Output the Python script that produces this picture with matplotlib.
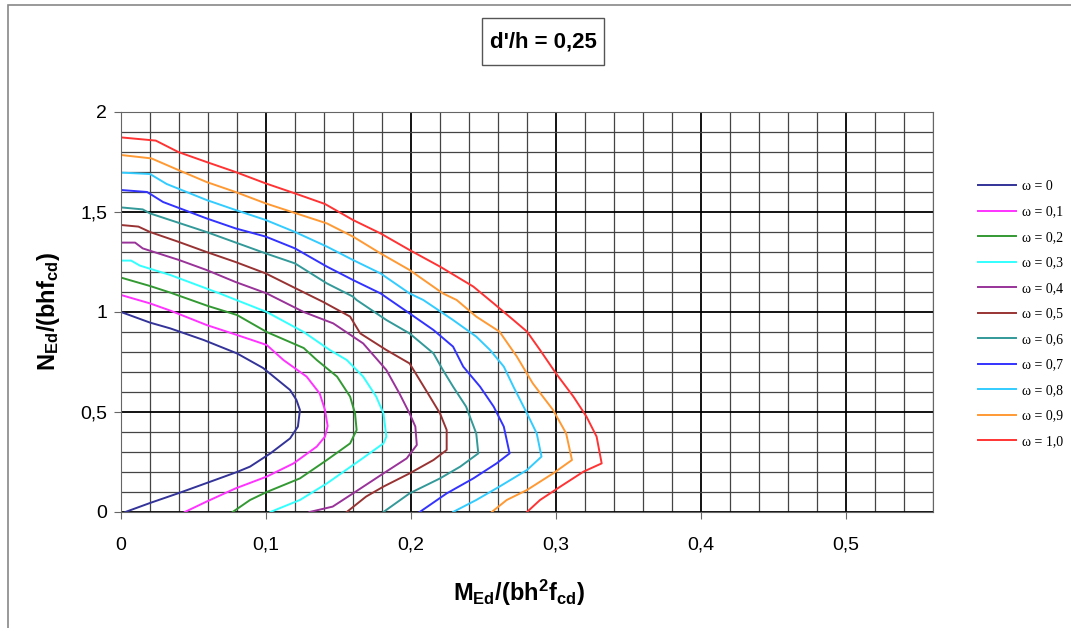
import numpy as np
import matplotlib.pyplot as plt
from matplotlib.ticker import MultipleLocator, FixedLocator, FixedFormatter
from matplotlib.patches import Rectangle

plt.rcParams['font.family'] = ['Liberation Sans', 'DejaVu Sans']
plt.rcParams['mathtext.fontset'] = 'custom'
plt.rcParams['mathtext.rm'] = 'Liberation Sans:bold'
plt.rcParams['mathtext.it'] = 'Liberation Sans:bold'
plt.rcParams['mathtext.bf'] = 'Liberation Sans:bold'

# interaction curves, M_Ed/(bh^2 fcd) vs N_Ed/(bh fcd)
m_w0 = [0, 0.02, 0.034, 0.057, 0.08, 0.098, 0.1166, 0.121, 0.1234, 0.122, 0.1166, 0.103, 0.089, 0.08, 0.061, 0.04, 0.02, 0.003]
n_w0 = [1.0, 0.947, 0.918, 0.86, 0.793, 0.72, 0.61, 0.56, 0.51, 0.427, 0.368, 0.293, 0.227, 0.2, 0.15, 0.095, 0.045, 0.0]

m_w1 = [0, 0.02, 0.034, 0.059, 0.08, 0.1005, 0.112, 0.128, 0.137, 0.1407, 0.1425, 0.1407, 0.135, 0.119, 0.1005, 0.079, 0.059, 0.044]
n_w1 = [1.085, 1.043, 1.007, 0.935, 0.885, 0.835, 0.76, 0.677, 0.593, 0.51, 0.43, 0.377, 0.327, 0.243, 0.177, 0.118, 0.052, 0.0]

m_w2 = [0, 0.02, 0.034, 0.06, 0.08, 0.1005, 0.126, 0.135, 0.149, 0.158, 0.1614, 0.1625, 0.158, 0.142, 0.1234, 0.1005, 0.089, 0.077]
n_w2 = [1.172, 1.13, 1.097, 1.03, 0.985, 0.90, 0.82, 0.76, 0.677, 0.577, 0.493, 0.41, 0.343, 0.26, 0.168, 0.10, 0.06, 0.0]

m_w3 = [0, 0.007, 0.013, 0.034, 0.068, 0.1005, 0.126, 0.144, 0.1557, 0.167, 0.176, 0.181, 0.183, 0.181, 0.165, 0.142, 0.1234, 0.103]
n_w3 = [1.257, 1.257, 1.232, 1.185, 1.093, 1.0, 0.90, 0.81, 0.76, 0.677, 0.577, 0.493, 0.377, 0.343, 0.26, 0.143, 0.06, 0.0]

m_w4 = [0, 0.0097, 0.015, 0.04, 0.059, 0.079, 0.1005, 0.126, 0.1464, 0.167, 0.183, 0.192, 0.199, 0.203, 0.204, 0.197, 0.181, 0.16, 0.146, 0.130]
n_w4 = [1.347, 1.347, 1.318, 1.26, 1.21, 1.15, 1.093, 1.0, 0.943, 0.843, 0.71, 0.593, 0.493, 0.427, 0.335, 0.268, 0.193, 0.093, 0.027, 0.0]

m_w5 = [0, 0.012, 0.02, 0.04, 0.059, 0.079, 0.0998, 0.12, 0.1395, 0.158, 0.165, 0.183, 0.199, 0.206, 0.213, 0.22, 0.2246, 0.2246, 0.2155, 0.199, 0.181, 0.169, 0.1557]
n_w5 = [1.435, 1.427, 1.40, 1.35, 1.30, 1.25, 1.193, 1.12, 1.05, 0.977, 0.893, 0.81, 0.743, 0.66, 0.577, 0.493, 0.41, 0.31, 0.26, 0.193, 0.127, 0.077, 0.0]

m_w6 = [0, 0.015, 0.02, 0.059, 0.0998, 0.12, 0.142, 0.16, 0.1625, 0.183, 0.199, 0.2155, 0.222, 0.229, 0.238, 0.245, 0.2464, 0.234, 0.22, 0.199, 0.181]
n_w6 = [1.523, 1.513, 1.493, 1.40, 1.293, 1.243, 1.143, 1.077, 1.06, 0.96, 0.893, 0.793, 0.71, 0.627, 0.527, 0.393, 0.293, 0.227, 0.168, 0.093, 0.0]

m_w7 = [0, 0.018, 0.029, 0.059, 0.079, 0.0998, 0.12, 0.142, 0.16, 0.179, 0.199, 0.2155, 0.229, 0.236, 0.2476, 0.257, 0.264, 0.268, 0.259, 0.243, 0.2246, 0.206]
n_w7 = [1.61, 1.60, 1.55, 1.468, 1.418, 1.377, 1.318, 1.227, 1.16, 1.093, 0.993, 0.91, 0.827, 0.727, 0.627, 0.527, 0.427, 0.293, 0.243, 0.168, 0.093, 0.0]

m_w8 = [0, 0.02, 0.0315, 0.059, 0.079, 0.0998, 0.12, 0.142, 0.16, 0.179, 0.199, 0.2085, 0.229, 0.245, 0.2545, 0.264, 0.2706, 0.28, 0.2867, 0.29, 0.28, 0.261, 0.245, 0.229]
n_w8 = [1.697, 1.69, 1.64, 1.56, 1.51, 1.46, 1.40, 1.327, 1.26, 1.193, 1.093, 1.06, 0.96, 0.877, 0.81, 0.727, 0.627, 0.493, 0.393, 0.277, 0.21, 0.127, 0.06, 0.0]

m_w9 = [0, 0.021, 0.0395, 0.059, 0.079, 0.0998, 0.12, 0.142, 0.16, 0.179, 0.199, 0.222, 0.2315, 0.245, 0.261, 0.273, 0.284, 0.298, 0.307, 0.311, 0.298, 0.28, 0.266, 0.2557]
n_w9 = [1.785, 1.768, 1.71, 1.65, 1.60, 1.543, 1.495, 1.443, 1.377, 1.293, 1.21, 1.093, 1.06, 0.977, 0.902, 0.777, 0.643, 0.51, 0.393, 0.26, 0.193, 0.11, 0.06, 0.0]

m_w10 = [0, 0.024, 0.0395, 0.059, 0.079, 0.0998, 0.12, 0.1407, 0.16, 0.179, 0.199, 0.22, 0.243, 0.257, 0.2706, 0.28, 0.289, 0.30, 0.312, 0.321, 0.328, 0.3315, 0.319, 0.303, 0.289, 0.28]
n_w10 = [1.873, 1.857, 1.80, 1.75, 1.70, 1.643, 1.593, 1.54, 1.46, 1.393, 1.31, 1.227, 1.127, 1.043, 0.96, 0.902, 0.81, 0.693, 0.577, 0.477, 0.377, 0.243, 0.202, 0.127, 0.06, 0.0]

labels = ['ω = 0', 'ω = 0,1', 'ω = 0,2', 'ω = 0,3', 'ω = 0,4', 'ω = 0,5',
          'ω = 0,6', 'ω = 0,7', 'ω = 0,8', 'ω = 0,9', 'ω = 1,0']
colors = ['#333399', '#ff33ff', '#339933', '#33ffff', '#993399', '#993333',
          '#339999', '#3333ff', '#33ccff', '#ff9933', '#ff3333']

xticks = [0, 0.1, 0.2, 0.3, 0.4, 0.5]
xticklabels = ['0', '0,1', '0,2', '0,3', '0,4', '0,5']
yticks = [0, 0.5, 1, 1.5, 2]
yticklabels = ['0', '0,5', '1', '1,5', '2']

curves = [(m_w0, n_w0), (m_w1, n_w1), (m_w2, n_w2), (m_w3, n_w3), (m_w4, n_w4), (m_w5, n_w5),
          (m_w6, n_w6), (m_w7, n_w7), (m_w8, n_w8), (m_w9, n_w9), (m_w10, n_w10)]

fig = plt.figure(figsize=(10.71, 6.28), dpi=100)
ax = fig.add_axes([121 / 1071, 1 - 512 / 628, 812 / 1071, 400 / 628])

for (m, n), c, lab in zip(curves, colors, labels):
    ax.plot(m, n, color=c, lw=1.4, label=lab)

ax.set_xlim(0, 0.56)
ax.set_ylim(0, 2)
ax.xaxis.set_major_locator(FixedLocator(xticks))
ax.xaxis.set_major_formatter(FixedFormatter(xticklabels))
ax.yaxis.set_major_locator(FixedLocator(yticks))
ax.yaxis.set_major_formatter(FixedFormatter(yticklabels))
ax.xaxis.set_minor_locator(MultipleLocator(0.02))
ax.yaxis.set_minor_locator(MultipleLocator(0.1))
ax.set_axisbelow(True)
ax.grid(which='minor', color='#444444', lw=0.9)
ax.grid(which='major', color='black', lw=1.3)
ax.tick_params(which='major', length=5, color='#666666', labelsize=14, pad=5)
ax.tick_params(axis='x', which='major', pad=13)
ax.tick_params(which='minor', length=0)
for s in ax.spines.values():
    s.set_color('#666666')

ax.set_xlabel('M$_{Ed}$/(bh$^2$f$_{cd}$)', fontsize=17, fontweight='bold')
ax.set_ylabel('N$_{Ed}$/(bhf$_{cd}$)', fontsize=17, fontweight='bold')
ax.xaxis.set_label_coords(0.49, -0.165)
ax.yaxis.set_label_coords(-0.073, 0.502)

# title box
fig.patches.append(Rectangle((482 / 1071, 1 - 65 / 628), 122 / 1071, 47 / 628,
                             transform=fig.transFigure, fill=False, ec='#555555', lw=1))
fig.text(543 / 1071, 1 - 42 / 628, "d'/h = 0,25", ha='center', va='center',
         fontsize=16, fontweight='bold')

# outer frame
fig.patches.append(Rectangle((8 / 1071, -0.05), 1.1, 1 - 5 / 628 + 0.05,
                             transform=fig.transFigure, fill=False, ec='#888888', lw=1.2))

ax.legend(loc='upper left', bbox_to_anchor=(978 / 1071, 1 - 180 / 628),
          bbox_transform=fig.transFigure, frameon=False, borderpad=0, borderaxespad=0,
          handlelength=2.7, handletextpad=0.5, labelspacing=0.9,
          prop={'family': ['Liberation Serif', 'DejaVu Serif'], 'size': 10})

fig.savefig('out.png', dpi=100)
